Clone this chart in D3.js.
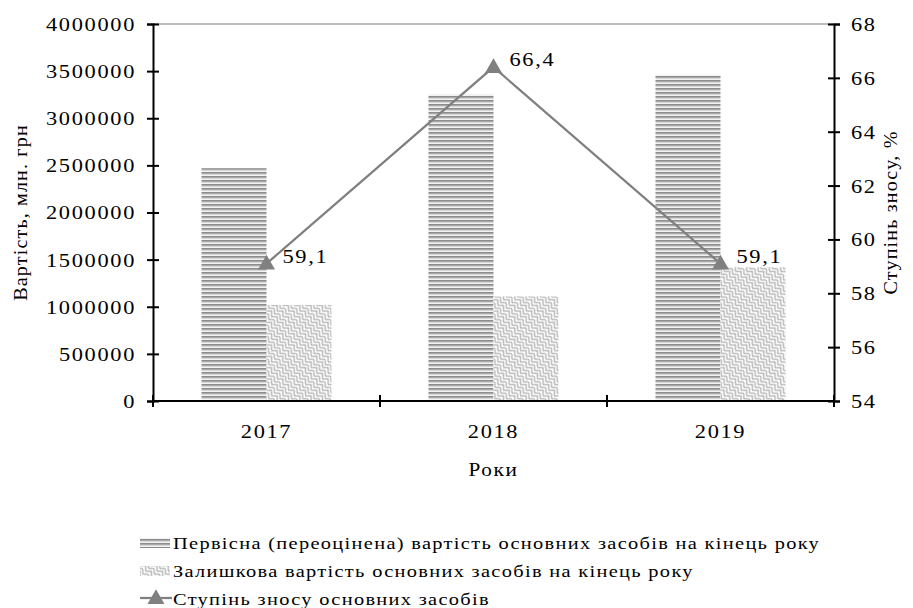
<!DOCTYPE html>
<html>
<head>
<meta charset="utf-8">
<script src="https://d3js.org/d3.v7.min.js"></script>
<style>
  body { margin: 0; background: #fff; }
  svg text { font-family: "Liberation Serif", "Times New Roman", serif; fill: #000; }
</style>
</head>
<body>
<script>
  // data
  var years = ["2017", "2018", "2019"];
  var initialValue = [2470000, 3250000, 3460000];   // первісна вартість
  var residualValue = [1020000, 1110000, 1420000];  // залишкова вартість
  var wearRate = [59.1, 66.4, 59.1];                // ступінь зносу, %
  var wearLabels = ["59,1", "66,4", "59,1"];
  var leftTicks = [0, 500000, 1000000, 1500000, 2000000, 2500000, 3000000, 3500000, 4000000];
  var rightTicks = [54, 56, 58, 60, 62, 64, 66, 68];
  var seriesNames = [
    "Первісна (переоцінена) вартість основних засобів на кінець року",
    "Залишкова вартість основних засобів на кінець року",
    "Ступінь зносу основних засобів"
  ];

  var W = 913, H = 608;
  var plotL = 153, plotR = 834, plotT = 24, plotB = 401;
  var k = 1.18; // text is horizontally stretched in the original
  var ls = "1.4px";

  var svg = d3.select("body").append("svg")
      .attr("width", W)
      .attr("height", H);

  var defs = svg.append("defs");

  // horizontal stripes
  var p1 = defs.append("pattern")
      .attr("id", "stripes")
      .attr("patternUnits", "userSpaceOnUse")
      .attr("width", 8).attr("height", 4);
  ["#8c8c8c", "#a9a9a9", "#d6d6d6", "#f2f2f2"].forEach(function (c, i) {
    p1.append("rect").attr("x", 0).attr("y", i).attr("width", 8).attr("height", 1).attr("fill", c);
  });

  // weave
  var p2 = defs.append("pattern")
      .attr("id", "weave")
      .attr("patternUnits", "userSpaceOnUse")
      .attr("patternTransform", "rotate(45)")
      .attr("width", 8).attr("height", 8);
  p2.append("rect").attr("width", 8).attr("height", 8).attr("fill", "#fff");
  p2.append("path")
      .attr("d", "M0,4 L4,0 L8,4 M0,8 L4,4 L8,8 M-1,1 L1,-1 M7,9 L9,7")
      .attr("fill", "none")
      .attr("stroke", "#b4b4b4")
      .attr("stroke-width", 1.3);

  var x = d3.scaleBand().domain(years).range([plotL, plotR]);
  var x1 = d3.scaleBand().domain([0, 1]).range([0, x.bandwidth()]).paddingOuter(0.746);
  var y = d3.scaleLinear().domain([0, 4000000]).range([plotB, plotT]);
  var y2 = d3.scaleLinear().domain([54, 68]).range([plotB, plotT]);

  // plot area top border
  svg.append("line")
      .attr("x1", plotL).attr("x2", plotR)
      .attr("y1", plotT).attr("y2", plotT)
      .attr("stroke", "#a6a6a6").attr("stroke-width", 1.5);

  // bars
  var g = svg.append("g");
  g.selectAll("rect.init").data(initialValue).enter().append("rect")
      .attr("class", "init")
      .attr("x", function (d, i) { return x(years[i]) + x1(0); })
      .attr("width", x1.bandwidth())
      .attr("y", function (d) { return y(d); })
      .attr("height", function (d) { return y(0) - y(d); })
      .attr("fill", "url(#stripes)");
  g.selectAll("rect.resid").data(residualValue).enter().append("rect")
      .attr("class", "resid")
      .attr("x", function (d, i) { return x(years[i]) + x1(1); })
      .attr("width", x1.bandwidth())
      .attr("y", function (d) { return y(d); })
      .attr("height", function (d) { return y(0) - y(d); })
      .attr("fill", "url(#weave)");

  // left axis
  var ax = svg.append("g")
      .attr("transform", "translate(" + plotL + ",0)")
      .call(d3.axisLeft(y).tickValues(leftTicks).tickFormat(d3.format("d")).tickSize(6));
  ax.select(".domain").attr("stroke-width", 2);
  ax.selectAll(".tick line").attr("x1", 6).attr("stroke-width", 2);
  ax.selectAll(".tick text")
      .attr("x", null).attr("dy", "0.34em")
      .attr("transform", "translate(-17,0) scale(" + k + ",1)")
      .style("letter-spacing", ls)
      .style("font-size", "19px").style("font-family", "Liberation Serif");

  // right axis
  var ay = svg.append("g")
      .attr("transform", "translate(" + plotR + ",0)")
      .call(d3.axisRight(y2).tickValues(rightTicks).tickSize(6));
  ay.select(".domain").attr("stroke-width", 2);
  ay.selectAll(".tick line").attr("x1", -6).attr("stroke-width", 2);
  ay.selectAll(".tick text")
      .attr("x", null).attr("dy", "0.34em")
      .attr("transform", "translate(17,0) scale(" + k + ",1)")
      .style("letter-spacing", ls)
      .style("font-size", "19px").style("font-family", "Liberation Serif");

  // bottom axis: labels at band centres, ticks at band edges
  var axb = svg.append("g")
      .attr("transform", "translate(0," + plotB + ")")
      .call(d3.axisBottom(x).tickSize(0));
  axb.select(".domain").attr("stroke-width", 2).attr("d", "M" + plotL + ",0H" + plotR);
  axb.selectAll(".tick text")
      .attr("y", null).attr("dy", null)
      .attr("transform", "translate(0,37) scale(" + k + ",1)")
      .style("letter-spacing", ls)
      .style("font-size", "19px").style("font-family", "Liberation Serif");
  axb.selectAll("line.edge").data(years.concat(["end"])).enter().append("line")
      .attr("class", "edge")
      .attr("x1", function (d) { return d === "end" ? plotR : x(d); })
      .attr("x2", function (d) { return d === "end" ? plotR : x(d); })
      .attr("y1", -6).attr("y2", 6)
      .attr("stroke", "#000").attr("stroke-width", 2);

  // wear line
  var cx = function (d, i) { return x(years[i]) + x.bandwidth() / 2; };
  svg.append("path")
      .datum(wearRate)
      .attr("d", d3.line().x(cx).y(function (d) { return y2(d); }))
      .attr("fill", "none")
      .attr("stroke", "#808080")
      .attr("stroke-width", 2.25);
  var tri = d3.symbol().type(d3.symbolTriangle).size(125);
  svg.selectAll("path.mark").data(wearRate).enter().append("path")
      .attr("class", "mark")
      .attr("d", tri)
      .attr("transform", function (d, i) { return "translate(" + cx(d, i) + "," + (y2(d) + 1) + ")"; })
      .attr("fill", "#808080");
  svg.selectAll("text.val").data(wearRate).enter().append("text")
      .attr("class", "val")
      .attr("transform", function (d, i) {
        return "translate(" + (cx(d, i) + 16) + "," + (y2(d) - 1) + ") scale(" + k + ",1)";
      })
      .style("letter-spacing", ls)
      .style("font-size", "19px")
      .text(function (d, i) { return wearLabels[i]; });

  // axis titles
  svg.append("text")
      .attr("transform", "translate(27," + ((plotT + plotB) / 2) + ") rotate(-90) scale(1.12,1)")
      .attr("text-anchor", "middle")
      .style("letter-spacing", "1px")
      .style("font-size", "18px")
      .text("Вартість, млн. грн");
  svg.append("text")
      .attr("transform", "translate(897," + ((plotT + plotB) / 2) + ") rotate(-90) scale(1.12,1)")
      .attr("text-anchor", "middle")
      .style("letter-spacing", "1px")
      .style("font-size", "18px")
      .text("Ступінь зносу, %");
  svg.append("text")
      .attr("transform", "translate(" + ((plotL + plotR) / 2) + ",476) scale(" + k + ",1)")
      .attr("text-anchor", "middle")
      .style("letter-spacing", ls)
      .style("font-size", "18px")
      .text("Роки");

  // legend
  var lg = svg.append("g").attr("transform", "translate(140,543)");
  lg.append("rect").attr("x", 0).attr("y", -5).attr("width", 30).attr("height", 10).attr("fill", "url(#stripes)");
  lg.append("rect").attr("x", 0).attr("y", 23).attr("width", 30).attr("height", 10).attr("fill", "url(#weave)");
  lg.append("line").attr("x1", 0).attr("x2", 32).attr("y1", 55).attr("y2", 55)
      .attr("stroke", "#808080").attr("stroke-width", 2.25);
  lg.append("path").attr("d", tri).attr("transform", "translate(16,56)").attr("fill", "#808080");
  lg.selectAll("text").data(seriesNames).enter().append("text")
      .attr("transform", function (d, i) { return "translate(33," + (i * 28 + 6) + ") scale(1.2,1)"; })
      .style("letter-spacing", "1.1px")
      .style("font-size", "17px")
      .text(function (d) { return d; });
</script>
</body>
</html>
